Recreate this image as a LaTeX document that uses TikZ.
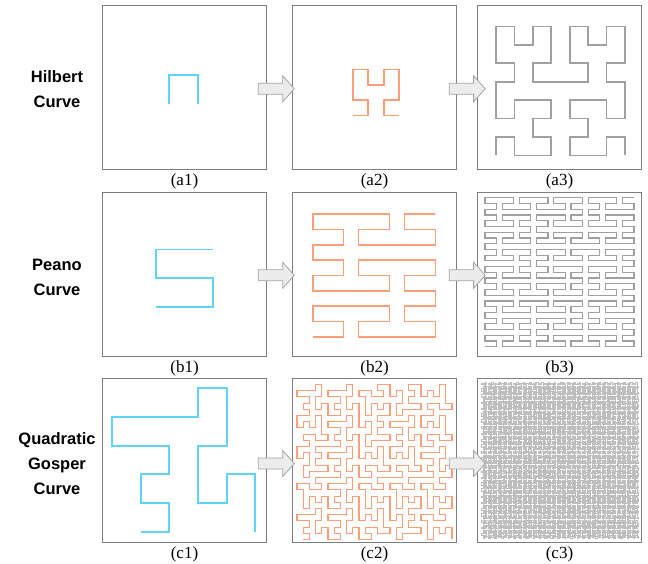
\documentclass[tikz,border=0pt]{standalone}
\usepackage{fontspec}
\setmainfont{Liberation Serif}
\newfontfamily\rowfont{Liberation Sans}
\usetikzlibrary{lindenmayersystems}

\definecolor{boxgray}{RGB}{125,125,125}
\definecolor{arrowfill}{RGB}{236,236,236}
\definecolor{arrowdraw}{RGB}{165,165,165}
\definecolor{cyanc}{RGB}{95,212,250}
\definecolor{orangec}{RGB}{252,158,120}
\definecolor{grayc}{RGB}{160,160,160}
\definecolor{lightc}{RGB}{190,190,190}

\pgfdeclarelindenmayersystem{hilsys}{
  \rule{X -> +YF-XFX-FY+}
  \rule{Y -> -XF+YFY+FX-}}
\pgfdeclarelindenmayersystem{peasys}{
  \rule{X -> XFYFX+F+YFXFY-F-XFYFX}
  \rule{Y -> YFXFY-F-XFYFX+F+YFXFY}}
\pgfdeclarelindenmayersystem{gossys}{
  \rule{X -> XFX-YF-YF+FX+FX-YF-YFFX+YF+FXFXYF-FX+YF+FXFX+YF-FXYF-YF-FX+FX+YFYF-}
  \rule{Y -> +FXFX-YF-YF+FX+FXYF+FX-YFYF-FX-YF+FXYFYF-FX-YFFX+FX+YF-YF-FX+FX+YFY}}

% ---- turtle (used for fitting, and for the densest curve) ----
\newcount\tx \newcount\ty \newcount\tdx \newcount\tdy \newcount\ttmp \newcount\tcnt \newcount\lvl
\newcount\tminx \newcount\tmaxx \newcount\tminy \newcount\tmaxy
\newcount\pxa \newcount\pxb \newcount\pya \newcount\pyb
\newdimen\tstep
\newif\iftdraw
\newif\iftswap

\def\tcoord{\iftswap(\the\dimexpr\tstep*\ty\relax,\the\dimexpr\tstep*\tx\relax)\else(\the\dimexpr\tstep*\tx\relax,\the\dimexpr\tstep*\ty\relax)\fi}
\def\tflush{\draw[curvestyle]\cpath;\edef\cpath{\tcoord}\tcnt=0\relax}
\def\tfwd{\advance\tx\tdx\advance\ty\tdy
  \iftdraw
    \edef\cpath{\cpath--\tcoord}\advance\tcnt by 1\relax
    \ifnum\tcnt>200\relax\tflush\fi
  \else
    \ifnum\tx<\tminx\tminx=\tx\fi
    \ifnum\tx>\tmaxx\tmaxx=\tx\fi
    \ifnum\ty<\tminy\tminy=\ty\fi
    \ifnum\ty>\tmaxy\tmaxy=\ty\fi
  \fi}
\def\tleft{\ttmp=\tdx\tdx=-\tdy\tdy=\ttmp\relax}
\def\tright{\ttmp=\tdx\tdx=\tdy\tdy=-\ttmp\relax}
\def\lsx{\ifnum\lvl>0\relax\advance\lvl by -1\relax\curx\advance\lvl by 1\relax\fi}
\def\lsy{\ifnum\lvl>0\relax\advance\lvl by -1\relax\cury\advance\lvl by 1\relax\fi}

\begingroup
\catcode`\X=13 \catcode`\Y=13 \catcode`\F=13 \catcode`\+=13 \catcode`\-=13
\gdef X{\lsx}\gdef Y{\lsy}\gdef F{\tfwd}\gdef+{\tleft}\gdef-{\tright}
\gdef\hilx{+YF-XFX-FY+}
\gdef\hily{-XF+YFY+FX-}
\gdef\hilax{X}
\gdef\peax{XFYFX+F+YFXFY-F-XFYFX}
\gdef\peay{YFXFY-F-XFYFX+F+YFXFY}
\gdef\peaax{X}
\gdef\gosx{XFX-YF-YF+FX+FX-YF-YFFX+YF+FXFXYF-FX+YF+FXFX+YF-FXYF-YF-FX+FX+YFYF-}
\gdef\gosy{+FXFX-YF-YF+FX+FXYF+FX-YFYF-FX-YF+FXYFYF-FX-YFFX+FX+YF-YF-FX+FX+YFY}
\gdef\gosax{-Y}
\endgroup

% fit: #1 x-rule #2 y-rule #3 axiom #4 order #5 swap #6 cx #7 cy (pixel, y down) #8 width
\newcommand\lfit[8]{%
  \let\curx#1\let\cury#2\def\curax{#3}\def\curord{#4}%
  \csname tswap#5\endcsname
  \tdrawfalse\tx=0 \ty=0 \tdx=1 \tdy=0 \tminx=0 \tmaxx=0 \tminy=0 \tmaxy=0 \lvl=#4\relax
  #3%
  \iftswap\pxa=\tminy\pxb=\tmaxy\pya=\tminx\pyb=\tmaxx
  \else\pxa=\tminx\pxb=\tmaxx\pya=\tminy\pyb=\tmaxy\fi
  \ttmp=\numexpr\pxb-\pxa\relax
  \tstep=\dimexpr #8pt/\ttmp\relax
  \edef\tstepv{\the\tstep}%
  \edef\tox{\the\dimexpr #6pt-\tstep*\numexpr\pxa+\pxb\relax/2\relax}%
  \edef\toy{\the\dimexpr (564pt-#7pt)-\tstep*\numexpr\pya+\pyb\relax/2\relax}}
% draw with the library: #1 system #2 axiom #3 style
\newcommand\ldraw[3]{%
  \begin{scope}[shift={(\tox,\toy)}]
    \iftswap
      \begin{scope}[cm={0,1,1,0,(0,0)}]
      \draw[#3, line join=miter, l-system={#1, axiom=#2, order=\curord, step=\tstepv, angle=90}] (0,0) lindenmayer system;
      \end{scope}
    \else
      \draw[#3, line join=miter, l-system={#1, axiom=#2, order=\curord, step=\tstepv, angle=90}] (0,0) lindenmayer system;
    \fi
  \end{scope}}
% draw with the turtle: #1 style
\newcommand\tdrawcurve[1]{%
  \tikzset{curvestyle/.style={#1}}%
  \begin{scope}[shift={(\tox,\toy)}]
    \tdrawtrue\tx=0 \ty=0 \tdx=1 \tdy=0 \tcnt=0 \lvl=\curord\relax
    \edef\cpath{\tcoord}%
    \curax
    \draw[curvestyle]\cpath;
  \end{scope}}

\tikzset{
  panel/.style={draw=boxgray, line width=1pt, minimum width=164pt, minimum height=164pt, inner sep=0pt, fill=white},
  captext/.style={font=\fontsize{17}{20}\selectfont, inner sep=0pt},
  rowlab/.style={font=\rowfont\bfseries\fontsize{16.5}{25}\selectfont, align=center, inner sep=0pt},
  blockarrow/.pic={\path[draw=arrowdraw, fill=arrowfill, line width=0.8pt, line join=miter]
    (-18,-5.5) -- (6.4,-5.5) -- (6.4,-13) -- (18,0) -- (6.4,13) -- (6.4,5.5) -- (-18,5.5) -- cycle;}
}

\begin{document}
\begin{tikzpicture}[x=1pt,y=1pt]
\useasboundingbox (0,0) rectangle (648,564);
\fill[white] (0,0) rectangle (648,564);

% panels
\node[panel] (a1) at (184.5,476) {};
\node[panel] (a2) at (374.5,476) {};
\node[panel] (a3) at (559.5,476) {};
\node[panel] (b1) at (184.5,289.5) {};
\node[panel] (b2) at (374.5,289.5) {};
\node[panel] (b3) at (559.5,289.5) {};
\node[panel] (c1) at (184.5,103.5) {};
\node[panel] (c2) at (374.5,103.5) {};
\node[panel] (c3) at (559.5,103.5) {};

% captions
\node[captext] (ta1) at ([yshift=-11pt]a1.south) {(a1)};
\node[captext] (ta2) at ([yshift=-11pt]a2.south) {(a2)};
\node[captext] (ta3) at ([yshift=-11pt]a3.south) {(a3)};
\node[captext] (tb1) at ([yshift=-11pt]b1.south) {(b1)};
\node[captext] (tb2) at ([yshift=-11pt]b2.south) {(b2)};
\node[captext] (tb3) at ([yshift=-11pt]b3.south) {(b3)};
\node[captext] (tc1) at ([yshift=-11pt]c1.south) {(c1)};
\node[captext] (tc2) at ([yshift=-11pt]c2.south) {(c2)};
\node[captext] (tc3) at ([yshift=-11pt]c3.south) {(c3)};

% row labels
\node[rowlab] (lh) at (57,475) {Hilbert\\Curve};
\node[rowlab] (lp) at (57,286.5) {Peano\\Curve};
\node[rowlab] (lg) at (57,100.5) {Quadratic\\Gosper\\Curve};

% Hilbert
\lfit{\hilx}{\hily}{\hilax}{1}{false}{183.5}{89.5}{29}
\ldraw{hilsys}{X}{draw=cyanc, line width=1.8pt}
\lfit{\hilx}{\hily}{\hilax}{2}{false}{376}{92.5}{46}
\ldraw{hilsys}{X}{draw=orangec, line width=1.7pt}
\lfit{\hilx}{\hily}{\hilax}{3}{false}{560.5}{91}{129}
\ldraw{hilsys}{X}{draw=grayc, line width=1.7pt}
% Peano
\lfit{\peax}{\peay}{\peaax}{1}{false}{184.5}{278.3}{57.6}
\ldraw{peasys}{X}{draw=cyanc, line width=1.8pt}
\lfit{\peax}{\peay}{\peaax}{2}{false}{374}{275.5}{122.6}
\ldraw{peasys}{X}{draw=orangec, line width=1.6pt}
\lfit{\peax}{\peay}{\peaax}{3}{false}{559.5}{272.3}{149}
\ldraw{peasys}{X}{draw=grayc, line width=1.2pt}
% Quadratic Gosper
\lfit{\gosx}{\gosy}{\gosax}{1}{true}{183.7}{460}{143.3}
\ldraw{gossys}{-Y}{draw=cyanc, line width=1.8pt}
\lfit{\gosx}{\gosy}{\gosax}{2}{true}{374.5}{462}{155}
\ldraw{gossys}{-Y}{draw=orangec, line width=1.15pt}
\lfit{\gosx}{\gosy}{\gosax}{3}{true}{560}{460.5}{156.6}
\tdrawcurve{draw=lightc, line width=0.7pt}

% arrows
\pic at (276.3,475.2) {blockarrow};
\pic at (467.2,475.2) {blockarrow};
\pic at (276.3,288.7) {blockarrow};
\pic at (467.2,288.7) {blockarrow};
\pic at (276.3,100.5) {blockarrow};
\pic at (467.2,100.5) {blockarrow};
\end{tikzpicture}
\end{document}
